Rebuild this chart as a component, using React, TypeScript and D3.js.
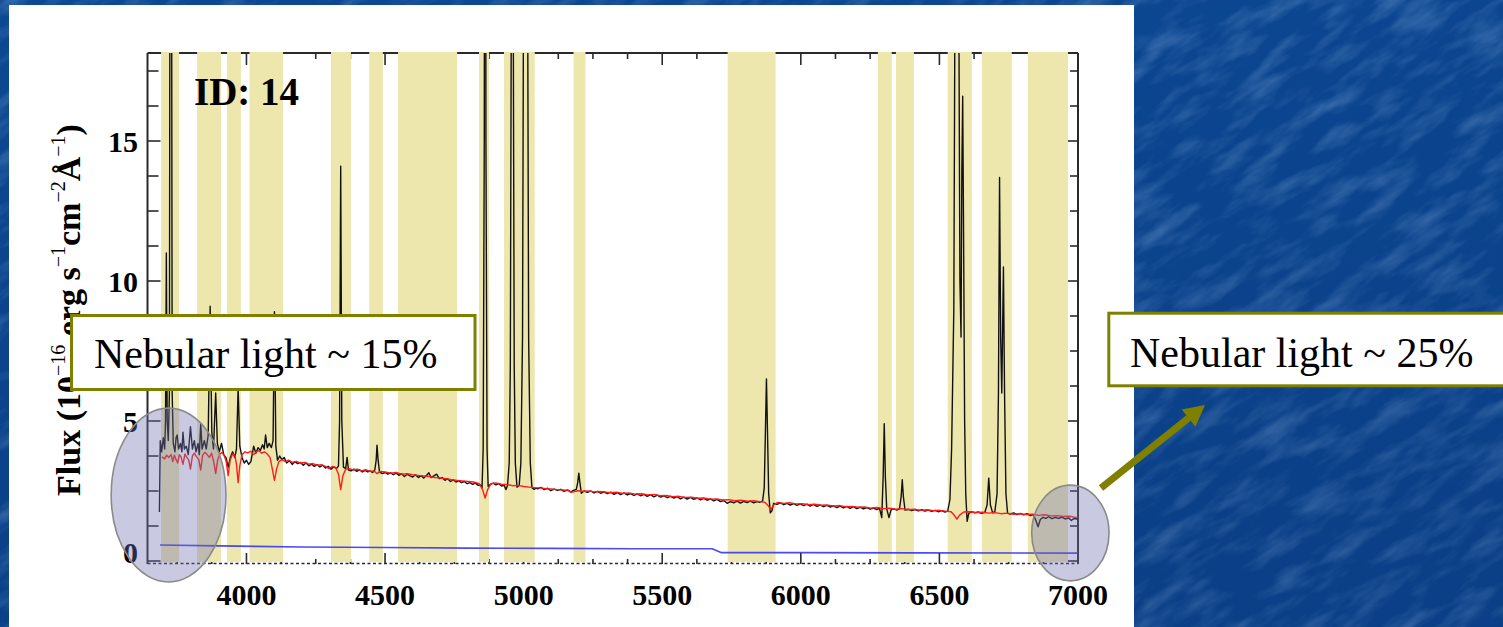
import React from "react";
import * as d3 from "d3";

// Wavelength (Å) and flux (1e-16 erg/s/cm2/Å) axes
const WAVE_DOMAIN = [3643, 7000];
const FLUX_DOMAIN = [-0.107, 18.143];
const WAVE_TICKS = [4000, 4500, 5000, 5500, 6000, 6500, 7000];
const WAVE_MINOR = [3750, 3875, 4125, 4250, 4375, 4625, 4750, 4875, 5125, 5250, 5375, 5625, 5750, 5875, 6125, 6250, 6375, 6625, 6750, 6875];
const FLUX_TICKS = [0, 5, 10, 15];
const FLUX_MINOR = [1.25, 2.5, 3.75, 6.25, 7.5, 8.75, 11.25, 12.5, 13.75, 16.25, 17.5];

// Masked wavelength windows (emission lines, WR bump, NaD, etc.)
const MASKS: [number, number][] = [
  [3692, 3757], [3822, 3908], [3930, 3980], [4011, 4132], [4305, 4377], [4443, 4492],
  [4547, 4760], [4839, 4875], [4929, 5040], [5180, 5223], [5736, 5909], [6278, 6328],
  [6343, 6408], [6530, 6617], [6653, 6761], [6819, 6964],
];

// Observed spectrum [wavelength, flux]
const OBSERVED: [number, number][] = [
  [3686, 1.75], [3689, 4.3], [3694, 3.9], [3700, 4.4], [3705, 4.0], [3708, 5.0], [3711, 11.0], [3714, 5.0],
  [3718, 4.3], [3722, 6.0], [3727, 45], [3732, 6.0], [3736, 4.2], [3742, 3.9], [3746, 4.4], [3750, 4.5],
  [3755, 4.0], [3762, 4.2], [3767, 3.9], [3771, 4.6], [3776, 4.0], [3783, 4.1], [3790, 3.8], [3798, 4.8],
  [3805, 4.0], [3812, 4.3], [3818, 3.9], [3825, 4.2], [3830, 3.8], [3835, 4.9], [3840, 4.0], [3848, 4.3],
  [3855, 4.0], [3862, 4.5], [3869, 9.1], [3875, 4.6], [3881, 4.0], [3889, 6.0], [3895, 4.2], [3902, 3.9],
  [3910, 4.2], [3918, 3.8], [3926, 3.7], [3934, 3.35], [3942, 3.7], [3950, 3.9], [3958, 3.7], [3964, 4.0],
  [3970, 6.2], [3976, 4.1], [3984, 3.7], [3992, 3.5], [4000, 3.6], [4008, 3.45], [4016, 3.55], [4026, 4.1],
  [4034, 3.85], [4042, 4.05], [4050, 3.95], [4058, 4.15], [4064, 4.0], [4069, 4.5], [4075, 4.05], [4082, 4.2],
  [4090, 4.05], [4096, 4.3], [4101, 8.9], [4106, 4.1], [4112, 3.6], [4120, 3.75], [4128, 3.62], [4136, 3.7],
  [4145, 3.5], [4155, 3.58], [4165, 3.45], [4175, 3.55], [4185, 3.48], [4195, 3.52], [4205, 3.42], [4215, 3.5],
  [4225, 3.4], [4235, 3.46], [4245, 3.38], [4255, 3.44], [4265, 3.36], [4275, 3.42], [4285, 3.32], [4295, 3.38],
  [4305, 3.28], [4315, 3.36], [4325, 3.3], [4332, 3.4], [4336, 5.0], [4340, 14.1], [4344, 5.0], [4350, 3.35],
  [4358, 3.3], [4363, 3.7], [4368, 3.25], [4378, 3.22], [4388, 3.28], [4398, 3.2], [4408, 3.26], [4418, 3.18],
  [4428, 3.24], [4438, 3.18], [4446, 3.22], [4455, 3.16], [4463, 3.25], [4468, 3.6], [4471, 4.14], [4475, 3.6],
  [4480, 3.18], [4490, 3.12], [4500, 3.16], [4510, 3.1], [4520, 3.15], [4530, 3.08], [4540, 3.14], [4550, 3.06],
  [4560, 3.12], [4570, 3.02], [4580, 3.1], [4590, 3.04], [4600, 3.0], [4610, 3.08], [4620, 2.98], [4630, 3.05],
  [4640, 2.96], [4650, 3.06], [4658, 3.15], [4666, 2.98], [4676, 3.04], [4686, 3.1], [4696, 2.94], [4706, 2.98],
  [4716, 2.88], [4726, 2.94], [4736, 2.84], [4746, 2.9], [4756, 2.82], [4766, 2.86], [4776, 2.8], [4786, 2.84],
  [4796, 2.76], [4806, 2.8], [4816, 2.74], [4826, 2.78], [4836, 2.7], [4844, 2.72], [4850, 2.62], [4854, 4.0],
  [4858, 15], [4861, 45], [4864, 15], [4868, 4.0], [4872, 2.66], [4880, 2.74], [4890, 2.78], [4900, 2.72],
  [4910, 2.76], [4920, 2.68], [4930, 2.7], [4936, 2.55], [4942, 2.7], [4948, 3.5], [4952, 7], [4955, 18],
  [4959, 50], [4963, 18], [4966, 7], [4970, 3.5], [4976, 2.64], [4984, 2.7], [4990, 3.5], [4996, 8],
  [5000, 22], [5004, 80], [5007, 150], [5010, 80], [5014, 22], [5018, 8], [5024, 3.5], [5030, 2.62],
  [5038, 2.56], [5044, 2.6], [5050, 2.58], [5062, 2.63], [5074, 2.55], [5086, 2.6], [5098, 2.51], [5110, 2.57],
  [5122, 2.52], [5134, 2.56], [5146, 2.49], [5158, 2.54], [5170, 2.47], [5180, 2.52], [5190, 2.56], [5195, 2.8],
  [5199, 3.14], [5203, 2.8], [5208, 2.42], [5218, 2.5], [5230, 2.45], [5242, 2.5], [5254, 2.43], [5266, 2.49],
  [5278, 2.42], [5290, 2.47], [5302, 2.41], [5314, 2.46], [5326, 2.38], [5338, 2.44], [5350, 2.37], [5362, 2.43],
  [5374, 2.36], [5386, 2.41], [5398, 2.34], [5410, 2.4], [5422, 2.33], [5434, 2.38], [5446, 2.31], [5458, 2.37],
  [5470, 2.29], [5482, 2.35], [5494, 2.28], [5506, 2.33], [5518, 2.26], [5530, 2.31], [5542, 2.25], [5554, 2.3],
  [5566, 2.22], [5578, 2.28], [5590, 2.21], [5602, 2.27], [5614, 2.2], [5626, 2.25], [5638, 2.18], [5650, 2.24],
  [5662, 2.17], [5674, 2.22], [5686, 2.15], [5698, 2.2], [5710, 2.12], [5722, 2.16], [5734, 2.06], [5746, 2.12],
  [5758, 2.08], [5770, 2.14], [5782, 2.07], [5794, 2.13], [5806, 2.09], [5818, 2.14], [5830, 2.08], [5842, 2.12],
  [5852, 2.1], [5862, 2.14], [5868, 2.6], [5872, 4.5], [5876, 6.5], [5880, 4.5], [5884, 2.4], [5890, 1.72],
  [5896, 1.8], [5902, 2.06], [5914, 2.02], [5926, 2.08], [5938, 2.01], [5950, 2.06], [5962, 2.0], [5974, 2.05],
  [5986, 1.99], [5998, 2.04], [6010, 1.98], [6022, 2.03], [6034, 1.96], [6046, 2.02], [6058, 1.95], [6070, 2.0],
  [6082, 1.94], [6094, 1.99], [6106, 1.93], [6118, 1.97], [6130, 1.91], [6142, 1.96], [6154, 1.9], [6166, 1.95],
  [6178, 1.88], [6190, 1.94], [6202, 1.87], [6214, 1.92], [6226, 1.86], [6238, 1.91], [6250, 1.85], [6262, 1.89],
  [6274, 1.84], [6284, 1.88], [6292, 1.55], [6297, 3.0], [6301, 4.9], [6305, 3.0], [6310, 1.86], [6318, 1.55],
  [6326, 1.84], [6336, 1.86], [6346, 1.82], [6356, 1.86], [6362, 2.3], [6366, 2.9], [6370, 2.3], [6376, 1.82],
  [6388, 1.85], [6400, 1.8], [6412, 1.84], [6424, 1.79], [6436, 1.83], [6448, 1.78], [6460, 1.82], [6472, 1.77],
  [6484, 1.81], [6496, 1.76], [6508, 1.8], [6520, 1.75], [6530, 1.78], [6538, 2.2], [6544, 4.0], [6548, 6.5],
  [6552, 9], [6556, 20], [6560, 45], [6563, 80], [6566, 45], [6570, 20], [6574, 10], [6578, 8],
  [6581, 14], [6584, 16.6], [6587, 12], [6591, 5], [6595, 2.4], [6600, 1.42], [6606, 1.7], [6616, 1.76],
  [6628, 1.72], [6640, 1.75], [6652, 1.7], [6664, 1.74], [6672, 2.0], [6678, 2.96], [6684, 2.0], [6692, 1.72],
  [6700, 1.76], [6708, 2.4], [6713, 6], [6717, 13.7], [6721, 8], [6725, 6], [6729, 9], [6731, 10.5],
  [6735, 6], [6740, 2.4], [6746, 1.7], [6756, 1.68], [6768, 1.72], [6780, 1.66], [6792, 1.7], [6804, 1.65],
  [6816, 1.69], [6828, 1.62], [6838, 1.66], [6848, 1.45], [6856, 1.22], [6864, 1.48], [6874, 1.56], [6884, 1.52],
  [6894, 1.58], [6906, 1.51], [6918, 1.56], [6930, 1.52], [6942, 1.57], [6954, 1.5], [6966, 1.54], [6976, 1.45],
  [6986, 1.52], [6996, 1.5], [7005, 1.53],
];

// Best-fit stellar population model [wavelength, flux]
const MODEL: [number, number][] = [
  [3695, 3.72], [3705, 3.65], [3712, 3.78], [3720, 3.7], [3728, 3.8], [3734, 3.55], [3740, 3.78], [3746, 3.62],
  [3752, 3.5], [3758, 3.8], [3764, 3.72], [3771, 3.45], [3778, 3.82], [3785, 3.7], [3792, 3.6], [3798, 3.28],
  [3805, 3.75], [3812, 3.85], [3820, 3.72], [3828, 3.62], [3835, 3.25], [3842, 3.78], [3850, 3.88], [3858, 3.8],
  [3866, 3.7], [3874, 3.85], [3882, 3.55], [3889, 3.12], [3896, 3.6], [3904, 3.82], [3912, 3.88], [3920, 3.75],
  [3927, 3.55], [3934, 3.05], [3941, 3.6], [3950, 3.82], [3958, 3.78], [3964, 3.45], [3970, 2.8], [3976, 3.4],
  [3984, 3.8], [3995, 3.9], [4005, 3.86], [4015, 3.92], [4026, 3.8], [4035, 3.9], [4045, 3.94], [4055, 3.85],
  [4065, 3.9], [4075, 3.82], [4085, 3.7], [4093, 3.3], [4101, 2.88], [4109, 3.3], [4117, 3.55], [4128, 3.62],
  [4140, 3.55], [4152, 3.6], [4165, 3.52], [4180, 3.56], [4195, 3.5], [4210, 3.52], [4225, 3.46], [4240, 3.48],
  [4255, 3.42], [4270, 3.44], [4285, 3.38], [4298, 3.3], [4310, 3.38], [4322, 3.34], [4332, 3.1], [4340, 2.55],
  [4348, 3.05], [4358, 3.28], [4372, 3.3], [4385, 3.25], [4400, 3.28], [4415, 3.22], [4430, 3.26], [4445, 3.2],
  [4460, 3.22], [4471, 3.12], [4482, 3.2], [4500, 3.18], [4520, 3.14], [4540, 3.16], [4560, 3.1], [4580, 3.12],
  [4600, 3.08], [4620, 3.06], [4640, 3.04], [4660, 3.02], [4680, 2.98], [4700, 2.96], [4720, 2.94], [4740, 2.9],
  [4760, 2.88], [4780, 2.86], [4800, 2.84], [4820, 2.82], [4840, 2.76], [4852, 2.55], [4861, 2.25], [4870, 2.55],
  [4882, 2.76], [4900, 2.79], [4920, 2.74], [4940, 2.73], [4960, 2.69], [4980, 2.7], [5000, 2.66], [5020, 2.64],
  [5040, 2.62], [5060, 2.61], [5080, 2.58], [5100, 2.57], [5120, 2.55], [5140, 2.54], [5160, 2.52], [5172, 2.45],
  [5180, 2.47], [5195, 2.51], [5215, 2.49], [5235, 2.5], [5255, 2.47], [5275, 2.48], [5290, 2.47], [5312, 2.44],
  [5335, 2.46], [5358, 2.41], [5380, 2.43], [5402, 2.39], [5425, 2.4], [5448, 2.36], [5470, 2.38], [5492, 2.33],
  [5515, 2.34], [5538, 2.3], [5560, 2.31], [5582, 2.27], [5605, 2.28], [5628, 2.24], [5650, 2.25], [5672, 2.21],
  [5695, 2.22], [5718, 2.18], [5740, 2.19], [5762, 2.15], [5785, 2.17], [5808, 2.14], [5830, 2.15], [5852, 2.12],
  [5870, 2.1], [5882, 1.98], [5892, 1.84], [5902, 2.0], [5915, 2.09], [5938, 2.06], [5960, 2.08], [5982, 2.04],
  [6005, 2.05], [6028, 2.01], [6050, 2.03], [6072, 1.99], [6095, 2.0], [6118, 1.96], [6140, 1.98], [6162, 1.94],
  [6185, 1.95], [6208, 1.92], [6230, 1.93], [6252, 1.89], [6275, 1.91], [6298, 1.87], [6320, 1.89], [6342, 1.85],
  [6365, 1.87], [6388, 1.83], [6410, 1.85], [6432, 1.81], [6455, 1.83], [6478, 1.8], [6500, 1.81], [6522, 1.78],
  [6542, 1.76], [6553, 1.64], [6563, 1.5], [6573, 1.64], [6588, 1.75], [6610, 1.76], [6632, 1.73], [6655, 1.74],
  [6678, 1.71], [6700, 1.73], [6722, 1.69], [6745, 1.71], [6768, 1.67], [6790, 1.69], [6812, 1.66], [6835, 1.67],
  [6858, 1.63], [6880, 1.65], [6902, 1.61], [6925, 1.62], [6948, 1.59], [6970, 1.6], [6990, 1.56], [7002, 1.57],
];

// Flux uncertainty [wavelength, flux]
const ERROR: [number, number][] = [
  [3688, 0.57], [3900, 0.54], [4200, 0.5], [4500, 0.48], [4800, 0.46], [5100, 0.45], [5400, 0.44],
  [5680, 0.44], [5712, 0.3], [6000, 0.3], [6400, 0.29], [7010, 0.28],
];

// Highlighted regions: [wave min, wave max, flux min, flux max]
const HIGHLIGHTS: [number, number, number, number][] = [
  [3512, 3926, -0.75, 5.46],
  [6833, 7112, -0.71, 2.71],
];

const SERIF = "'Liberation Serif', 'Times New Roman', Times, serif";
const OLIVE = "#808000";

export default function App() {
  const x = d3.scaleLinear().domain(WAVE_DOMAIN).range([147.5, 1078]);
  const y = d3.scaleLinear().domain(FLUX_DOMAIN).range([564, 53]);
  const line = d3
    .line<[number, number]>()
    .x((d) => x(d[0]))
    .y((d) => y(d[1]));

  const left = x(WAVE_DOMAIN[0]);
  const right = x(WAVE_DOMAIN[1]);
  const top = y(FLUX_DOMAIN[1]);
  const bottom = y(FLUX_DOMAIN[0]);
  const zeroY = y(0);
  const axisColor = "#2a2a2a";

  // arrow geometry for the right-hand call-out
  const tail = [1101, 488];
  const tip = [1205, 405];
  const dx = tip[0] - tail[0];
  const dy = tip[1] - tail[1];
  const len = Math.hypot(dx, dy);
  const ux = dx / len;
  const uy = dy / len;
  const base = [tip[0] - 21 * ux, tip[1] - 21 * uy];
  const head = [
    [tip[0], tip[1]],
    [base[0] + 11 * -uy, base[1] + 11 * ux],
    [base[0] - 11 * -uy, base[1] - 11 * ux],
  ];

  return (
    <div style={{ position: "fixed", left: 0, top: 0 }}>
      <svg width={1503} height={627} style={{ display: "block" }}>
        <defs>
          <filter
            id="marble"
            filterUnits="userSpaceOnUse"
            x={-600}
            y={-900}
            width={2800}
            height={2400}
          >
            <feTurbulence type="fractalNoise" baseFrequency="0.018 0.06" numOctaves="4" seed="5" />
            <feColorMatrix
              type="matrix"
              values="0 0 0 0 0.3  0 0 0 0 0.52  0 0 0 0 0.85  0 0 0 0.7 -0.3"
            />
          </filter>
          <linearGradient id="shade" x1="0" y1="0" x2="0.3" y2="1">
            <stop offset="0" stopColor="#001a50" stopOpacity="0" />
            <stop offset="1" stopColor="#001a50" stopOpacity="0.18" />
          </linearGradient>
          <clipPath id="plotArea">
            <rect x={left} y={top} width={right - left} height={bottom - top} />
          </clipPath>
        </defs>

        {/* slide background */}
        <rect x={0} y={0} width={1503} height={627} fill="#0c4893" />
        <g transform="rotate(-32 750 313)">
          <rect x={-600} y={-900} width={2800} height={2400} filter="url(#marble)" />
        </g>
        <rect x={0} y={0} width={1503} height={627} fill="url(#shade)" />

        {/* figure panel */}
        <rect x={9} y={5} width={1125} height={640} fill="#ffffff" />

        {/* frame */}
        <g stroke={axisColor} strokeWidth={2} fill="none">
          <line x1={left} y1={top} x2={right} y2={top} />
          <line x1={left} y1={top} x2={left} y2={bottom} />
          <line x1={right} y1={top} x2={right} y2={bottom} />
        </g>
        <g stroke={axisColor} strokeWidth={1.6}>
          {WAVE_TICKS.map((t) => (
            <g key={"wt" + t}>
              <line x1={x(t)} x2={x(t)} y1={top} y2={top + 12} />
              <line x1={x(t)} x2={x(t)} y1={bottom} y2={bottom - 11} />
            </g>
          ))}
          {WAVE_MINOR.map((t) => (
            <g key={"wm" + t}>
              <line x1={x(t)} x2={x(t)} y1={top} y2={top + 6} />
              <line x1={x(t)} x2={x(t)} y1={bottom} y2={bottom - 5} />
            </g>
          ))}
          {FLUX_TICKS.map((t) => (
            <g key={"ft" + t}>
              <line x1={left} x2={left + 13} y1={y(t)} y2={y(t)} />
              <line x1={right} x2={right - 10} y1={y(t)} y2={y(t)} />
            </g>
          ))}
          {FLUX_MINOR.map((t) => (
            <g key={"fm" + t}>
              <line x1={left} x2={left + 11} y1={y(t)} y2={y(t)} />
              <line x1={right} x2={right - 8} y1={y(t)} y2={y(t)} />
            </g>
          ))}
        </g>

        {/* masked windows */}
        <g fill="#ede7ae">
          {MASKS.map(([a, b]) => (
            <rect key={a} x={x(a)} y={top - 1} width={x(b) - x(a)} height={zeroY - top + 2} />
          ))}
        </g>

        {/* bottom axis */}
        <line
          x1={left}
          x2={right}
          y1={bottom - 0.5}
          y2={bottom - 0.5}
          stroke={axisColor}
          strokeWidth={1.6}
          strokeDasharray="3 2.5"
        />

        {/* spectra */}
        <g clipPath="url(#plotArea)" fill="none" strokeLinejoin="round">
          <path d={line(ERROR) || ""} stroke="#2b2bf0" strokeWidth={1.6} strokeOpacity={0.85} />
          <path d={line(OBSERVED) || ""} stroke="#111111" strokeWidth={1.4} />
          <path d={line(MODEL) || ""} stroke="#ff1c1c" strokeWidth={1.4} />
        </g>

        <text x={194} y={105} fontFamily={SERIF} fontWeight="bold" fontSize={39} fill="#000">
          ID: 14
        </text>

        {/* tick labels */}
        <g fontFamily={SERIF} fontWeight="bold" fontSize={30} fill="#000">
          {WAVE_TICKS.map((t) => (
            <text key={"wl" + t} x={x(t)} y={605} textAnchor="middle">
              {t}
            </text>
          ))}
          {FLUX_TICKS.map((t) => (
            <text key={"fl" + t} x={138} y={y(t) + (t === 0 ? 2 : 11)} textAnchor="end">
              {t}
            </text>
          ))}
        </g>

        <text
          transform="translate(80, 310) rotate(-90)"
          textAnchor="middle"
          fontFamily={SERIF}
          fontWeight="bold"
          fontSize={34}
          fill="#000"
        >
          Flux (10
          <tspan dy={-15} fontSize={20} fontWeight="normal">−16</tspan>
          <tspan dy={15}> erg s</tspan>
          <tspan dy={-15} fontSize={20} fontWeight="normal">−1</tspan>
          <tspan dy={15}>cm</tspan>
          <tspan dy={-15} fontSize={20} fontWeight="normal">−2</tspan>
          <tspan dy={15}>Å</tspan>
          <tspan dy={-15} fontSize={20} fontWeight="normal">−1</tspan>
          <tspan dy={15}>)</tspan>
        </text>

        {/* highlighted regions */}
        {HIGHLIGHTS.map(([w0, w1, f0, f1]) => (
          <ellipse
            key={w0}
            cx={(x(w0) + x(w1)) / 2}
            cy={(y(f0) + y(f1)) / 2}
            rx={(x(w1) - x(w0)) / 2}
            ry={(y(f0) - y(f1)) / 2}
            fill="rgb(112,112,176)"
            fillOpacity={0.38}
            stroke="#8a8a8a"
            strokeWidth={1.6}
          />
        ))}

        {/* call-outs */}
        <rect x={71.5} y={315.5} width={403.5} height={74} fill="#fff" stroke={OLIVE} strokeWidth={3} />
        <text x={94} y={368} fontFamily={SERIF} fontSize={42} fill="#000">
          Nebular light ~ 15%
        </text>

        <rect x={1108.8} y={313.2} width={420} height={72.6} fill="#fff" stroke={OLIVE} strokeWidth={3} />
        <text x={1130} y={367} fontFamily={SERIF} fontSize={42} fill="#000">
          Nebular light ~ 25%
        </text>

        <line x1={tail[0]} y1={tail[1]} x2={base[0]} y2={base[1]} stroke={OLIVE} strokeWidth={7} />
        <polygon points={head.map((p) => p.join(",")).join(" ")} fill={OLIVE} />
      </svg>
    </div>
  );
}
